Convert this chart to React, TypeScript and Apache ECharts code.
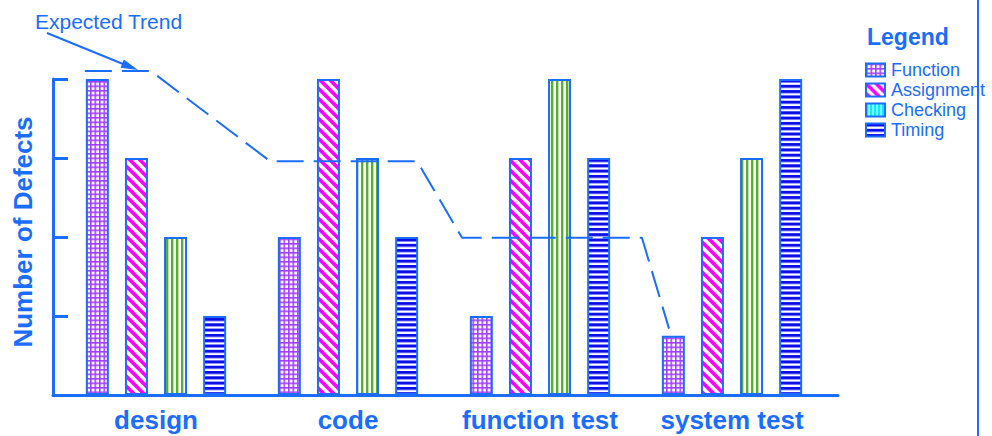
import React, { useEffect, useRef } from "react";
import * as echarts from "echarts";

const categories = ["design", "code", "function test", "system test"];
const seriesNames = ["Function", "Assignment", "Checking", "Timing"];
const functionDefects = [4, 2, 1, 0.75];
const assignmentDefects = [3, 4, 3, 2];
const checkingDefects = [2, 3, 4, 3];
const timingDefects = [1, 2, 3, 4];
// expected trend, x in category units (0 = design centre), y in defects
const trendX = [-0.37, -0.026, 0.594, 1.36, 1.594, 2.531, 2.672];
const trendY = [4.1, 4.1, 2.96, 2.96, 1.99, 1.99, 0.84];
const yTicks = [0, 1, 2, 3, 4];

const BLUE = "#1a6dff";
const FONT = "'Liberation Sans', Arial, Helvetica, sans-serif";

function makePattern(w: number, h: number, draw: (ctx: CanvasRenderingContext2D) => void) {
  const s = 4;
  const c = document.createElement("canvas");
  c.width = Math.round(w * s);
  c.height = Math.round(h * s);
  const ctx = c.getContext("2d") as CanvasRenderingContext2D;
  ctx.scale(c.width / w, c.height / h);
  draw(ctx);
  return { image: c, repeat: "repeat", imageWidth: w, imageHeight: h } as any;
}

export default function App() {
  const ref = useRef<HTMLDivElement>(null);
  useEffect(() => {
    if (!ref.current) return;
    const chart = echarts.init(ref.current, undefined, { renderer: "svg" });

    const gridPat = makePattern(4.5, 4.5, (ctx) => {
      ctx.fillStyle = "#fff";
      ctx.fillRect(0, 0, 4.5, 4.5);
      ctx.fillStyle = "#a040ff";
      ctx.fillRect(0, 0, 4.5, 1.6);
      ctx.fillRect(0, 0, 1.6, 4.5);
    });
    const diagPat = makePattern(10, 10, (ctx) => {
      ctx.fillStyle = "#fff";
      ctx.fillRect(0, 0, 10, 10);
      ctx.strokeStyle = "#ff00ff";
      ctx.lineWidth = 3.6;
      for (const k of [-10, 0, 10]) {
        ctx.beginPath();
        ctx.moveTo(-1, k - 1);
        ctx.lineTo(11, k + 11);
        ctx.stroke();
      }
    });
    const vertPat = makePattern(5, 2, (ctx) => {
      ctx.fillStyle = "#fff";
      ctx.fillRect(0, 0, 5, 2);
      ctx.fillStyle = "#55b030";
      ctx.fillRect(1, 0, 2.4, 2);
    });
    const vertLegendPat = makePattern(4, 2, (ctx) => {
      ctx.fillStyle = "#00f0ff";
      ctx.fillRect(0, 0, 4, 2);
      ctx.fillStyle = "#fff";
      ctx.fillRect(2.5, 0, 1.3, 2);
    });
    const horizPat = makePattern(2, 5.3, (ctx) => {
      ctx.fillStyle = "#fff";
      ctx.fillRect(0, 0, 2, 5.3);
      ctx.fillStyle = "#0a0ae6";
      ctx.fillRect(0, 0, 2, 3);
    });

    const patterns = [gridPat, diagPat, vertPat, horizPat];
    const legendPatterns = [gridPat, diagPat, vertLegendPat, horizPat];
    const values = [functionDefects, assignmentDefects, checkingDefects, timingDefects];

    const barSeries = seriesNames.map((name, i) => ({
      name,
      type: "bar",
      xAxisIndex: 0,
      yAxisIndex: 0,
      barWidth: 23,
      barGap: "70%",
      data: values[i],
      itemStyle: { color: patterns[i], borderColor: BLUE, borderWidth: 2 },
      silent: true,
    }));

    chart.setOption({
      animation: false,
      textStyle: { fontFamily: FONT },
      title: {
        text: "Legend",
        left: 867,
        top: 25,
        padding: 0,
        textStyle: { fontFamily: FONT, fontSize: 23, fontWeight: "bold", color: BLUE },
      },
      legend: {
        orient: "vertical",
        left: 865,
        top: 61,
        padding: 0,
        itemWidth: 19,
        itemHeight: 13,
        itemGap: 2,
        selectedMode: false,
        icon: "rect",
        textStyle: { fontFamily: FONT, fontSize: 18, color: BLUE, padding: [0, 0, 0, 1] },
        data: seriesNames.map((name, i) => ({
          name,
          itemStyle: { color: legendPatterns[i], borderColor: BLUE, borderWidth: 2 },
        })),
      },
      grid: [
        { left: 60, right: 164, top: 79, bottom: 41 },
        { left: 53, right: 154, top: 79, bottom: 41 },
      ],
      xAxis: [
        {
          type: "category",
          gridIndex: 0,
          data: categories,
          axisLine: { show: false },
          axisTick: { show: false },
          axisLabel: {
            fontFamily: FONT,
            fontSize: 26,
            fontWeight: "bold",
            color: BLUE,
            margin: 12,
            interval: 0,
          },
        },
        {
          type: "value",
          gridIndex: 1,
          min: -0.536,
          max: 3.552,
          axisLine: { show: true, lineStyle: { color: BLUE, width: 3 } },
          axisTick: { show: false },
          axisLabel: { show: false },
          splitLine: { show: false },
        },
      ],
      yAxis: [
        {
          type: "value",
          gridIndex: 0,
          min: yTicks[0],
          max: yTicks[yTicks.length - 1],
          interval: 1,
          offset: 7,
          name: "Number of Defects",
          nameLocation: "middle",
          nameRotate: 90,
          nameGap: 17,
          nameTextStyle: {
            fontFamily: FONT,
            fontSize: 26,
            fontWeight: "bold",
            color: BLUE,
            padding: [0, 0, 0, 10],
          },
          axisLine: { show: true, lineStyle: { color: BLUE, width: 3 } },
          axisTick: { show: true, inside: true, length: 15, lineStyle: { color: BLUE, width: 3 } },
          axisLabel: { show: false },
          splitLine: { show: false },
        },
        {
          type: "value",
          gridIndex: 1,
          min: 0,
          max: 4,
          show: false,
          splitLine: { show: false },
        },
      ],
      graphic: [
        {
          type: "line",
          shape: { x1: 978, y1: 0, x2: 978, y2: 436 },
          style: { stroke: BLUE, lineWidth: 2 },
          silent: true,
        },
        {
          type: "text",
          x: 35,
          y: 11,
          style: { text: "Expected Trend", fill: BLUE, font: `21px ${FONT}` },
          silent: true,
        },
        {
          type: "line",
          shape: { x1: 47, y1: 33, x2: 123, y2: 64 },
          style: { stroke: BLUE, lineWidth: 2 },
          silent: true,
        },
        {
          type: "polygon",
          shape: { points: [[138, 70], [120.5, 67.8], [123.9, 59.4]] },
          style: { fill: BLUE },
          silent: true,
        },
      ],
      series: [
        ...barSeries,
        {
          name: "Expected Trend",
          type: "line",
          xAxisIndex: 1,
          yAxisIndex: 1,
          data: trendX.map((x, i) => [x, trendY[i]]),
          symbol: "none",
          clip: false,
          silent: true,
          z: 5,
          lineStyle: { color: BLUE, width: 2, type: [27, 10] },
        },
      ],
    });
    return () => chart.dispose();
  }, []);
  return (
    <div
      ref={ref}
      style={{ position: "fixed", left: 0, top: 0, width: 992, height: 436, background: "#fff" }}
    />
  );
}
